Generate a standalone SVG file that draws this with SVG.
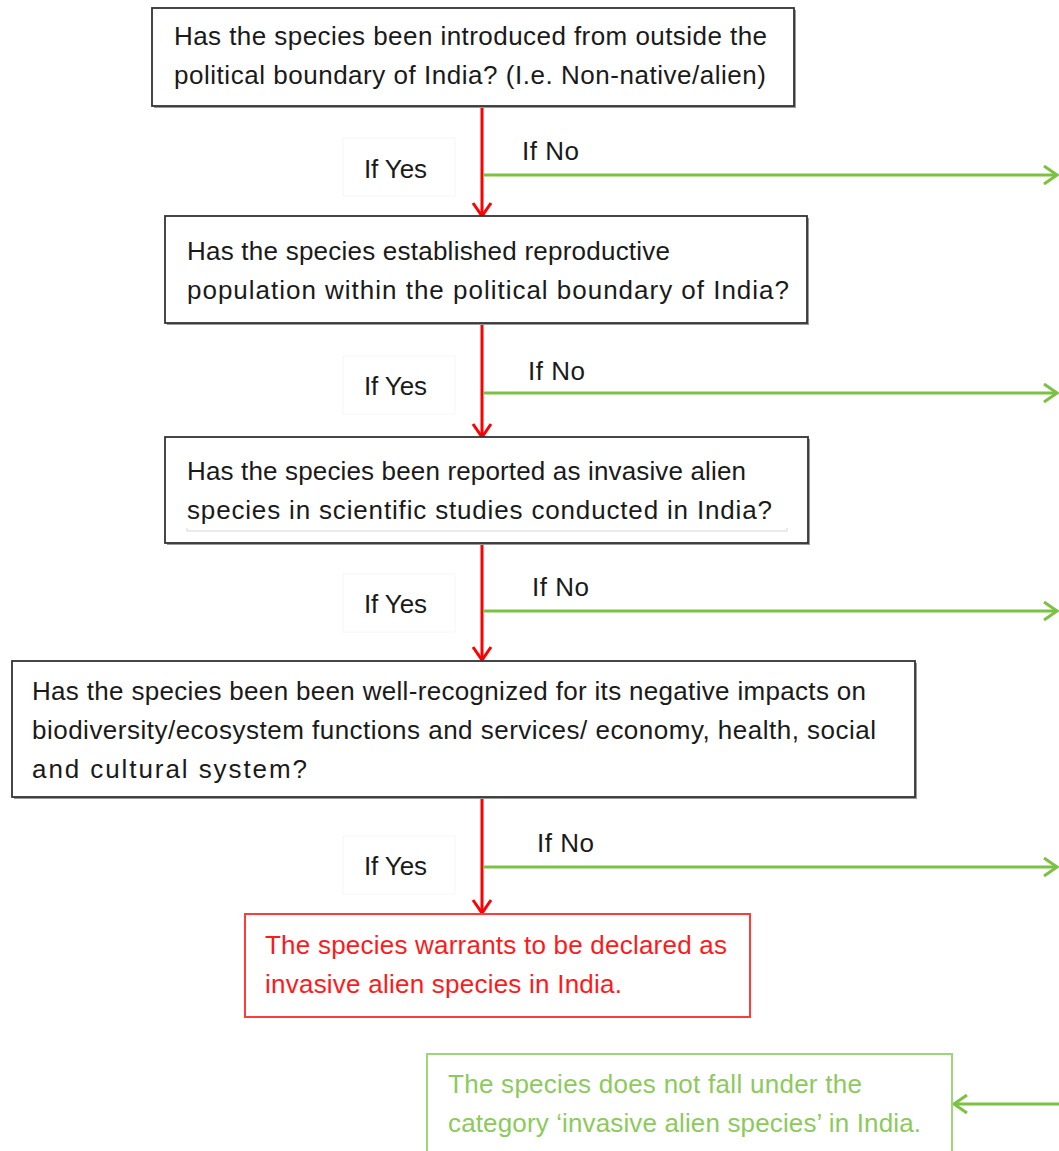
<svg xmlns="http://www.w3.org/2000/svg" width="1059" height="1151" viewBox="0 0 1059 1151">
<style>
text{font-family:"Liberation Sans",Arial,sans-serif;font-size:26px;fill:#1a1a1a}
.q{fill:#fff;stroke:#333;stroke-width:1.8}
.sh{fill:#9a9a9a}
.red{stroke:#ff0000;stroke-width:3;fill:none}
.grn{stroke:#7cc242;stroke-width:3;fill:none}
.rt{fill:#ff1a1a}
.gt{fill:#8cca5c}
.lbl{fill:#fff;stroke:#f6f6f6;stroke-width:1}
</style>
<defs>
<marker id="ar" markerUnits="userSpaceOnUse" markerWidth="22" markerHeight="22" viewBox="0 0 22 22" refX="19" refY="11" orient="auto">
<path d="M6,2 L19,11 L6,20" fill="none" stroke="#ff0000" stroke-width="3"/>
</marker>
<marker id="ag" markerUnits="userSpaceOnUse" markerWidth="22" markerHeight="22" viewBox="0 0 22 22" refX="19" refY="11" orient="auto">
<path d="M6,2 L19,11 L6,20" fill="none" stroke="#7cc242" stroke-width="3"/>
</marker>
</defs>
<rect width="1059" height="1151" fill="#fff"/>

<g id="labels">
<rect class="lbl" x="343" y="138" width="112" height="58"/>
<rect class="lbl" x="343" y="356" width="112" height="58"/>
<rect class="lbl" x="343" y="574" width="112" height="58"/>
<rect class="lbl" x="343" y="836" width="112" height="58"/>
</g>

<g id="connectors">
<line class="red" x1="482" y1="106" x2="482" y2="216" marker-end="url(#ar)"/>
<line class="red" x1="482" y1="323" x2="482" y2="437" marker-end="url(#ar)"/>
<line class="red" x1="482" y1="543" x2="482" y2="660" marker-end="url(#ar)"/>
<line class="red" x1="482" y1="797" x2="482" y2="913" marker-end="url(#ar)"/>
<line class="grn" x1="483" y1="175" x2="1057" y2="175" marker-end="url(#ag)"/>
<line class="grn" x1="483" y1="393" x2="1057" y2="393" marker-end="url(#ag)"/>
<line class="grn" x1="483" y1="611" x2="1057" y2="611" marker-end="url(#ag)"/>
<line class="grn" x1="483" y1="867" x2="1057" y2="867" marker-end="url(#ag)"/>
<line class="grn" x1="1059" y1="1104" x2="954" y2="1104" marker-end="url(#ag)"/>
<text x="364" y="178" textLength="63">If Yes</text>
<text x="522" y="160" textLength="57">If No</text>
<text x="364" y="395" textLength="63">If Yes</text>
<text x="528" y="380" textLength="57">If No</text>
<text x="364" y="613" textLength="63">If Yes</text>
<text x="532" y="596" textLength="57">If No</text>
<text x="364" y="875" textLength="63">If Yes</text>
<text x="537" y="852" textLength="57">If No</text>
</g>

<g id="q1">
<rect class="sh" x="154" y="10" width="642" height="98"/>
<rect class="q" x="152" y="8" width="642" height="98"/>
<text x="174" y="45" textLength="593">Has the species been introduced from outside the</text>
<text x="174" y="84" textLength="592">political boundary of India? (I.e. Non-native/alien)</text>
</g>

<g id="q2">
<rect class="sh" x="167" y="218" width="642" height="107"/>
<rect class="q" x="165" y="216" width="642" height="107"/>
<text x="187" y="260" textLength="483">Has the species established reproductive</text>
<text x="187" y="299" textLength="602">population within the political boundary of India?</text>
</g>

<g id="q3">
<rect class="sh" x="167" y="439" width="643" height="106"/>
<rect class="q" x="165" y="437" width="643" height="106"/>
<text x="187" y="480" textLength="559">Has the species been reported as invasive alien</text>
<text x="187" y="519" textLength="585">species in scientific studies conducted in India?</text>
<path d="M187,528 V531 H787 V528" fill="none" stroke="#d6d6d6" stroke-width="1"/>
</g>

<g id="q4">
<rect class="sh" x="14" y="663" width="903" height="136"/>
<rect class="q" x="12" y="661" width="903" height="136"/>
<text x="32" y="700" textLength="834">Has the species been been well-recognized for its negative impacts on</text>
<text x="32" y="739" textLength="844">biodiversity/ecosystem functions and services/ economy, health, social</text>
<text x="32" y="778" textLength="275">and cultural system?</text>
</g>

<g id="yes">
<rect x="245" y="914" width="505" height="103" fill="#fff" stroke="#ff3b3b" stroke-width="2"/>
<text class="rt" x="265" y="954" textLength="462">The species warrants to be declared as</text>
<text class="rt" x="265" y="993" textLength="357">invasive alien species in India.</text>
</g>

<g id="no">
<rect x="427" y="1054" width="525" height="110" fill="#fff" stroke="#9fd57a" stroke-width="2"/>
<text class="gt" x="448" y="1093" textLength="414">The species does not fall under the</text>
<text class="gt" x="448" y="1132" textLength="473">category ‘invasive alien species’ in India.</text>
</g>
</svg>
